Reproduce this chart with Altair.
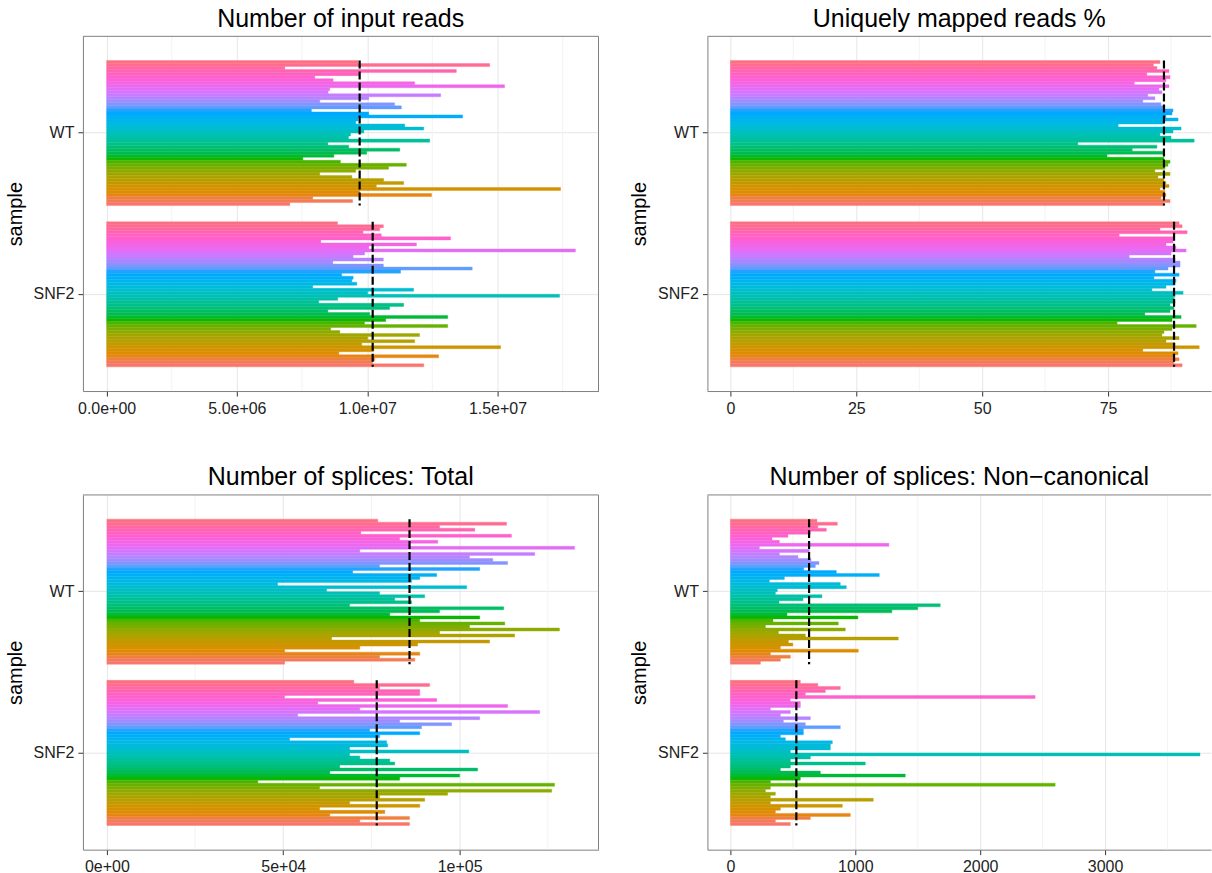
import math
import altair as alt
import pandas as pd

# ---------------- data (rows listed top -> bottom; replicate 48 at top, 1 at bottom) ----------------
samples = ["WT", "SNF2"]

input_reads_WT = [9.65e6, 14.70e6, 6.84e6, 13.42e6, 9.71e6, 7.99e6, 8.69e6, 11.82e6, 15.27e6, 8.56e6,
                  8.50e6, 12.82e6, 10.06e6, 8.18e6, 11.05e6, 11.31e6, 7.86e6, 10.06e6, 13.66e6, 9.65e6,
                  9.56e6, 11.44e6, 12.17e6, 9.87e6, 9.36e6, 9.28e6, 12.40e6, 8.49e6, 9.29e6, 11.25e6,
                  9.98e6, 8.72e6, 7.53e6, 8.97e6, 11.50e6, 10.82e6, 9.56e6, 8.18e6, 9.41e6, 10.63e6,
                  11.40e6, 10.35e6, 17.42e6, 9.71e6, 12.47e6, 7.91e6, 9.44e6, 7.03e6]
input_reads_SNF2 = [8.86e6, 10.62e6, 10.48e6, 9.84e6, 10.54e6, 13.20e6, 8.22e6, 11.89e6, 10.06e6, 17.99e6,
                    9.90e6, 9.46e6, 10.62e6, 8.68e6, 10.62e6, 14.03e6, 11.28e6, 9.02e6, 9.46e6, 9.41e6,
                    9.60e6, 7.91e6, 11.78e6, 10.02e6, 17.38e6, 8.87e6, 8.14e6, 11.40e6, 10.86e6, 8.49e6,
                    10.10e6, 13.09e6, 10.71e6, 9.90e6, 13.09e6, 8.60e6, 8.95e6, 12.01e6, 10.02e6, 11.82e6,
                    9.79e6, 15.12e6, 10.25e6, 8.91e6, 12.74e6, 10.29e6, 10.21e6, 12.17e6]
input_reads_mean = [9.71e6, 10.21e6]

unique_pct_WT = [85.3, 84.0, 84.7, 87.1, 82.7, 87.3, 86.5, 80.2, 87.1, 85.1,
                 85.7, 82.9, 84.3, 81.9, 85.5, 86.3, 87.9, 87.7, 86.5, 88.9,
                 86.0, 77.0, 89.5, 87.9, 85.3, 87.5, 92.1, 69.0, 84.7, 79.8,
                 85.9, 74.8, 86.1, 87.3, 86.9, 86.3, 84.3, 87.3, 84.9, 86.1,
                 86.5, 87.1, 85.3, 86.3, 86.5, 85.5, 87.3, 86.1]
unique_pct_SNF2 = [89.1, 89.7, 85.3, 90.7, 77.2, 87.9, 87.9, 86.5, 88.5, 90.5,
                   87.5, 79.2, 88.3, 89.3, 89.3, 86.9, 84.3, 89.1, 84.1, 88.5,
                   88.3, 86.5, 83.7, 89.9, 88.3, 88.0, 88.3, 87.3, 88.1, 87.3,
                   82.3, 89.5, 87.7, 76.8, 92.5, 87.7, 86.1, 85.7, 89.1, 86.5,
                   88.3, 93.1, 81.9, 88.9, 88.0, 89.1, 88.1, 89.7]
unique_pct_mean = [86.1, 88.1]

splices_total_WT = [76.8e3, 113.3e3, 94.3e3, 104.3e3, 72.0e3, 114.7e3, 83.0e3, 93.8e3, 85.8e3, 132.6e3,
                    71.7e3, 121.3e3, 102.8e3, 109.4e3, 113.6e3, 77.3e3, 105.7e3, 69.7e3, 93.5e3, 88.7e3,
                    86.4e3, 48.4e3, 102.0e3, 62.3e3, 77.3e3, 90.1e3, 81.6e3, 86.4e3, 68.8e3, 112.5e3,
                    94.3e3, 80.2e3, 105.7e3, 88.7e3, 112.8e3, 102.8e3, 128.3e3, 94.3e3, 115.6e3, 63.7e3,
                    108.5e3, 88.1e3, 71.7e3, 50.4e3, 88.7e3, 77.3e3, 87.3e3, 50.4e3]
splices_total_SNF2 = [70.0e3, 91.5e3, 77.3e3, 88.7e3, 88.7e3, 50.4e3, 93.5e3, 59.8e3, 113.6e3, 71.7e3,
                      122.7e3, 54.1e3, 105.7e3, 83.0e3, 97.7e3, 89.2e3, 74.5e3, 88.7e3, 77.3e3, 51.8e3,
                      79.3e3, 79.6e3, 68.8e3, 102.6e3, 68.8e3, 71.7e3, 80.2e3, 81.6e3, 66.0e3, 105.1e3,
                      63.2e3, 100.0e3, 83.0e3, 42.8e3, 126.9e3, 60.3e3, 126.1e3, 96.6e3, 77.3e3, 90.1e3,
                      68.8e3, 88.7e3, 60.3e3, 78.8e3, 63.2e3, 85.8e3, 71.7e3, 85.8e3]
splices_total_mean = [85.8e3, 76.5e3]

splices_noncanon_WT = [693, 856, 700, 768, 640, 461, 333, 392, 1269, 232,
                       632, 392, 541, 645, 709, 680, 587, 848, 1192, 432,
                       312, 880, 928, 376, 360, 733, 581, 389, 1680, 1500,
                       1293, 453, 1021, 341, 864, 280, 920, 384, 600, 1344,
                       464, 500, 400, 1024, 320, 480, 400, 240]
splices_noncanon_SNF2 = [560, 700, 880, 760, 600, 2440, 480, 560, 560, 320,
                         480, 400, 640, 424, 600, 880, 584, 584, 400, 440,
                         816, 800, 800, 480, 3760, 640, 480, 1080, 480, 400,
                         720, 1400, 560, 320, 2600, 320, 280, 360, 320, 1144,
                         320, 896, 400, 360, 960, 640, 360, 480]
splices_noncanon_mean = [630, 528]

# axis ticks / labels
ticks_input = [0, 5e6, 1e7, 1.5e7]
labels_input = ["0.0e+00", "5.0e+06", "1.0e+07", "1.5e+07"]
minor_input = [2.5e6, 7.5e6, 1.25e7, 1.75e7]

ticks_unique = [0, 25, 50, 75]
labels_unique = ["0", "25", "50", "75"]
minor_unique = [12.5, 37.5, 62.5, 87.5]

ticks_total = [0, 5e4, 1e5]
labels_total = ["0e+00", "5e+04", "1e+05"]
minor_total = [2.5e4, 7.5e4, 1.25e5]

ticks_nc = [0, 1000, 2000, 3000]
labels_nc = ["0", "1000", "2000", "3000"]
minor_nc = [500, 1500, 2500, 3500]

titles = ["Number of input reads", "Uniquely mapped reads %",
          "Number of splices: Total", "Number of splices: Non\u2212canonical"]

N_REP = 48


# ---------------- ggplot2 hue palette (style) ----------------
def hcl_hex(h, c=100.0, l=65.0):
    hr = math.radians(h)
    U = c * math.cos(hr)
    V = c * math.sin(hr)
    Xn, Yn, Zn = 95.047, 100.0, 108.883
    Y = Yn * ((l + 16) / 116) ** 3 if l > 8 else Yn * l / 903.3
    t = Xn + 15 * Yn + 3 * Zn
    un, vn = 4 * Xn / t, 9 * Yn / t
    u = U / (13 * l) + un
    v = V / (13 * l) + vn
    X = 9.0 * Y * u / (4 * v)
    Z = -X / 3 - 5 * Y + 3 * Y / v
    X, Y, Z = X / 100, Y / 100, Z / 100
    r = 3.240479 * X - 1.537150 * Y - 0.498535 * Z
    g = -0.969256 * X + 1.875992 * Y + 0.041556 * Z
    b = 0.055648 * X - 0.204043 * Y + 1.057311 * Z

    def gam(x):
        x = 1.055 * x ** (1 / 2.4) - 0.055 if x > 0.0031308 else 12.92 * x
        return min(max(x, 0.0), 1.0)

    return "#%02X%02X%02X" % tuple(int(round(gam(q) * 255)) for q in (r, g, b))


palette = [hcl_hex(15 + 360.0 * i / N_REP) for i in range(N_REP)]
rep_domain = list(range(1, N_REP + 1))
color_scale = alt.Scale(domain=rep_domain, range=palette)


def make_df(wt, snf2):
    rows = []
    for s, vals in (("WT", wt), ("SNF2", snf2)):
        for j, v in enumerate(vals):
            rows.append({"sample": s, "rep": N_REP - j, "value": v})
    return pd.DataFrame(rows)


def label_expr(ticks, labels):
    expr = "''"
    for v, l in reversed(list(zip(ticks, labels))):
        expr = f"datum.value == {float(v)} ? '{l}' : ({expr})"
    return expr


FONT = "Liberation Sans"
BORDER = "#7f7f7f"
H = 355


def panel(df, means, title, domain, ticks, labels, minor, width, right_edge):
    x = alt.X("value:Q",
              scale=alt.Scale(domain=domain, nice=False, zero=False),
              stack=False,
              axis=alt.Axis(values=ticks, labelExpr=label_expr(ticks, labels), title=None,
                            grid=True, labelFlush=False))
    yscale = alt.Scale(paddingInner=0.1, paddingOuter=0.15)
    yaxis = alt.Axis(title="sample", bandPosition=0.5, grid=True, titlePadding=8)
    y = alt.Y("sample:N", sort=samples, scale=yscale, axis=yaxis)

    minor_df = pd.DataFrame({"value": minor})
    minor_layer = alt.Chart(minor_df).mark_rule(color="#f3f3f3", strokeWidth=1).encode(x=x)

    bars = alt.Chart(df).mark_bar(strokeWidth=0.4).encode(
        x=x, y=y,
        yOffset=alt.YOffset("rep:O", sort="descending",
                            scale=alt.Scale(paddingInner=0, paddingOuter=0)),
        color=alt.Color("rep:N", scale=color_scale, legend=None),
        stroke=alt.Stroke("rep:N", scale=color_scale, legend=None),
    )

    mean_df = pd.DataFrame({"sample": samples, "value": means})
    mean_layer = alt.Chart(mean_df).mark_rule(color="black", strokeWidth=2.2,
                                              strokeDash=[8, 3]).encode(
        x=x,
        y=alt.Y("sample:N", sort=samples, scale=yscale, axis=yaxis, bandPosition=0),
        y2=alt.Y2("sample", bandPosition=1),
    )

    one = pd.DataFrame({"k": [0]})
    top_border = alt.Chart(one).mark_rule(color=BORDER, strokeWidth=1).encode(
        x=alt.value(0), x2=alt.value(width), y=alt.value(0))
    layers = [minor_layer, bars, mean_layer, top_border]
    if right_edge:
        right_border = alt.Chart(one).mark_rule(color=BORDER, strokeWidth=1).encode(
            x=alt.value(width), y=alt.value(0), y2=alt.value(H))
        layers.append(right_border)

    return alt.layer(*layers).properties(
        width=width, height=H,
        title=alt.Title(title, fontSize=25, fontWeight="normal", font=FONT, color="black",
                        offset=4, frame="group", anchor="middle"))


W_LEFT = 516
W_RIGHT = 504

tl = panel(make_df(input_reads_WT, input_reads_SNF2), input_reads_mean, titles[0],
           [-9.087e5, 1.8876e7], ticks_input, labels_input, minor_input, W_LEFT, True)
tr = panel(make_df(unique_pct_WT, unique_pct_SNF2), unique_pct_mean, titles[1],
           [-4.56, 95.44], ticks_unique, labels_unique, minor_unique, W_RIGHT, False)
bl = panel(make_df(splices_total_WT, splices_total_SNF2), splices_total_mean, titles[2],
           [-6799, 139377], ticks_total, labels_total, minor_total, W_LEFT, True)
br = panel(make_df(splices_noncanon_WT, splices_noncanon_SNF2), splices_noncanon_mean, titles[3],
           [-184, 3848], ticks_nc, labels_nc, minor_nc, W_RIGHT, False)

chart = alt.vconcat(
    alt.hconcat(tl, tr, spacing=30),
    alt.hconcat(bl, br, spacing=30),
    spacing=49,
).properties(
    padding={"left": 5, "top": 6, "right": 0, "bottom": 0},
    background="white",
).configure_view(
    strokeWidth=0,
).configure_axis(
    labelFont=FONT, labelFontSize=16, labelColor="#222222", labelPadding=4,
    tickColor="#333333", tickSize=5, tickWidth=1,
    domainColor=BORDER, domainWidth=1,
    gridColor="#e6e6e6", gridWidth=1,
    titleFont=FONT, titleFontSize=20, titleFontWeight="normal", titleColor="black",
)

chart.save("out.html", embed_options={"renderer": "svg", "actions": False})
